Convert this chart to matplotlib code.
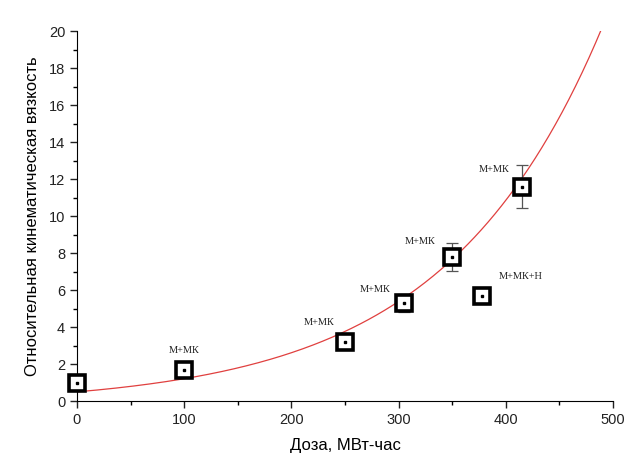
import numpy as np
import matplotlib.pyplot as plt

# measured points
dose = [0, 100, 250, 305, 350, 378, 415]
visc = [1.0, 1.7, 3.2, 5.3, 7.8, 5.7, 11.6]
err = [0.2, 0.2, 0.2, 0.5, 0.75, 0.3, 1.15]
labels = ["", "М+МК", "М+МК", "М+МК", "М+МК", "М+МК+Н", "М+МК"]
label_offsets = [(0, 0), (0, 14), (-19, 14), (-21, 10), (-23, 11), (28, 14), (-20, 12)]

# exponential fit y = y0 + A*exp(x/t)
fit_y0 = -0.23
fit_a = 0.73
fit_t = 147.0


def main():
    fig = plt.figure(figsize=(6.36, 4.73), dpi=100)
    ax = fig.add_axes([0.121, 0.152, 0.843, 0.782])

    x = np.linspace(0, 500, 400)
    y = fit_y0 + fit_a * np.exp(x / fit_t)
    ax.plot(x, y, color="#e0403f", lw=0.9, zorder=2)

    ax.errorbar(dose, visc, yerr=err, fmt="none", ecolor="#555555",
                elinewidth=0.9, capsize=4, capthick=0.9, zorder=3)
    ax.plot(dose, visc, "s", ms=11, mfc="white", mec="black", mew=2.6,
            zorder=4, clip_on=False)
    ax.plot(dose, visc, "s", ms=2, color="black", zorder=5, clip_on=False)

    for xd, yd, lab, off in zip(dose, visc, labels, label_offsets):
        if lab:
            ax.annotate(lab, (xd, yd), xytext=off, textcoords="offset points",
                        ha="center", va="center", fontsize=7.5,
                        family="Liberation Serif", color="#222222")

    ax.set_xlim(0, 500)
    ax.set_ylim(0, 20)
    ax.set_xticks(range(0, 501, 100))
    ax.set_xticks(range(50, 500, 100), minor=True)
    ax.set_yticks(range(0, 21, 2))
    ax.set_yticks(range(1, 20, 2), minor=True)
    ax.spines["top"].set_visible(False)
    ax.spines["right"].set_visible(False)
    ax.tick_params(which="major", direction="out", length=5, width=1,
                   labelsize=10.5, colors="#222222")
    ax.tick_params(which="minor", direction="out", length=3, width=1)
    for lab in ax.get_xticklabels() + ax.get_yticklabels():
        lab.set_family("Liberation Sans")
    ax.set_xlabel("Доза, МВт-час", fontsize=12, family="Liberation Sans",
                  labelpad=8)
    ax.set_ylabel("Относительная кинематическая вязкость", fontsize=12,
                  family="Liberation Sans", labelpad=6)

    fig.savefig("out.png", dpi=100)


if __name__ == "__main__":
    main()
